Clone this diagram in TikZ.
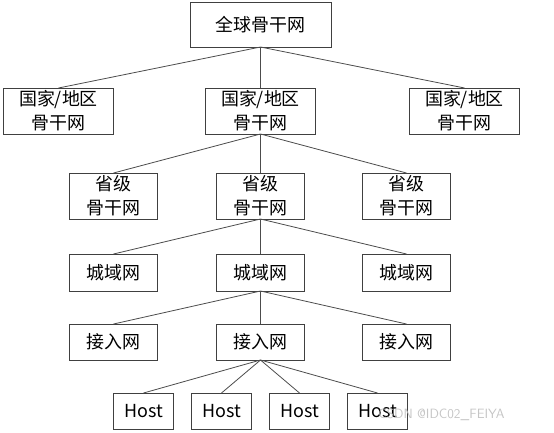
\documentclass[tikz,border=0pt]{standalone}
\usepackage{fontspec}
\setmainfont{Noto Sans CJK SC}
\usetikzlibrary{positioning}

\begin{document}
\begin{tikzpicture}[x=1bp,y=1bp,
  blk/.style={draw=black!75, line width=0.8bp, inner sep=1bp, outer sep=0pt, align=center,
    font=\fontsize{18}{24}\selectfont, minimum height=46bp},
  wide/.style={blk, minimum width=110bp},
  prov/.style={blk, minimum width=88bp},
  city/.style={blk, minimum width=88bp, minimum height=37bp},
  host/.style={blk, minimum width=60bp, minimum height=36bp},
  link/.style={draw=black!70, line width=0.8bp}]
\useasboundingbox (0,0) rectangle (554,-432);
\node (root) [blk, minimum width=141bp, minimum height=45bp] at (260.5,-24.5) {全球骨干网};
% national level
\node (natB) [wide, below=41bp of root] {国家/地区\\骨干网};
\node (natA) [wide, left=92bp of natB] {国家/地区\\骨干网};
\node (natC) [wide, right=94bp of natB] {国家/地区\\骨干网};
% province level
\node (provB) [prov, below=39bp of natB] {省级\\骨干网};
\node (provA) [prov, left=59bp of provB] {省级\\骨干网};
\node (provC) [prov, right=58bp of provB] {省级\\骨干网};
% metro level
\node (manB) [city, below=35bp of provB] {城域网};
\node (manA) [city, left=59bp of manB] {城域网};
\node (manC) [city, right=58bp of manB] {城域网};
% access level
\node (accB) [city, minimum height=36bp, below=33bp of manB] {接入网};
\node (accA) [city, minimum height=36bp, left=59bp of accB] {接入网};
\node (accC) [city, minimum height=36bp, right=58bp of accB] {接入网};
% hosts
\node (h2) [host, below=33bp of accB, xshift=-39bp] {Host};
\node (h1) [host, left=18bp of h2] {Host};
\node (h3) [host, right=18bp of h2] {Host};
\node (h4) [host, right=18bp of h3] {Host};
\foreach \p/\c in {root/natA, root/natB, root/natC,
                   natB/provA, natB/provB, natB/provC,
                   provB/manA, provB/manB, provB/manC,
                   manB/accA, manB/accB, manB/accC,
                   accB/h1, accB/h2, accB/h3, accB/h4}
  \draw [link] (\p.south)--(\c.north);
\node (mark) [anchor=east, text=gray!50, opacity=0.9, font=\fontsize{13.5}{16}\selectfont\sffamily] at (508,-415) {CSDN @IDC02\_FEIYA};
\end{tikzpicture}
\end{document}
